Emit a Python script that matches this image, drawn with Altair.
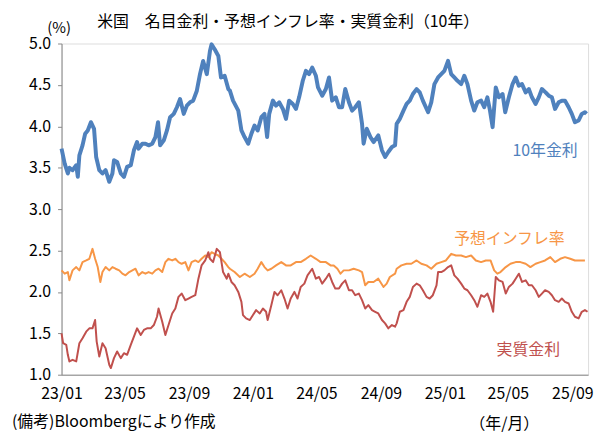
import altair as alt
import pandas as pd

TITLE = "米国　名目金利・予想インフレ率・実質金利（10年）"
FOOTER = "(備考)Bloombergにより作成"
XTITLE = "（年/月）"
YTITLE = "(%)"
FONT = "Noto Sans CJK JP"

START = "2023-01-01"

# day offsets from 2023-01-01 and values
blue_days = [0,6,12,15,21,28,31,34,40,45,50,56,62,66,72,78,84,91,97,100,
             106,113,119,125,132,138,144,147,154,160,166,173,179,184,188,195,201,207,214,220,
             226,233,239,245,251,258,264,270,277,283,286,292,299,304,311,318,
             321,327,337,343,349,356,362,368,374,381,387,392,396,403,409,415,422,428,434,441,
             447,453,460,466,472,478,485,489,497,504,510,516,523,529,535,541,548,554,560,567,
             573,576,582,589,595,604,611,617,623,630,636,
             639,645,652,658,664,670,677,683,689,699,705,711,718,724,730,737,743,749,755,762,
             768,774,781,787,793,800,806,812,817,822,828,834,841,846,853,860,866,872,878,885,
             891,897,904,910,916,923,929,935,941,948,954,960,967,973,979,986,992,998,1001]
blue_vals = [3.73,3.55,3.43,3.50,3.47,3.53,3.39,3.65,3.77,3.91,3.95,4.05,3.97,3.63,3.47,3.43,3.47,3.33,3.43,3.59,
             3.57,3.43,3.39,3.51,3.53,3.71,3.81,3.73,3.79,3.79,3.77,3.79,3.87,4.05,3.77,3.83,3.95,4.11,4.15,4.23,
             4.33,4.15,4.25,4.29,4.31,4.43,4.63,4.79,4.63,4.91,4.99,4.93,4.85,4.59,4.61,4.45,
             4.43,4.31,4.19,3.95,3.87,3.79,3.91,4.01,3.95,4.11,4.15,3.87,4.15,4.31,4.25,4.29,4.21,4.09,4.31,4.27,
             4.21,4.35,4.55,4.67,4.63,4.71,4.61,4.47,4.37,4.45,4.59,4.31,4.35,4.23,4.23,4.45,4.29,4.19,4.23,4.29,
             4.03,3.79,3.97,3.87,3.81,3.89,3.71,3.63,3.69,3.75,3.77,
             4.03,4.09,4.19,4.27,4.31,4.39,4.45,4.41,4.31,4.17,4.29,4.51,4.59,4.63,4.67,4.79,4.63,4.59,4.55,4.51,
             4.61,4.51,4.31,4.19,4.29,4.31,4.23,4.35,4.19,3.99,4.47,4.35,4.39,4.17,4.35,4.51,4.59,4.49,4.51,4.41,
             4.45,4.35,4.27,4.35,4.45,4.41,4.37,4.35,4.21,4.29,4.31,4.31,4.23,4.15,4.05,4.07,4.15,4.17,4.15]

orange_days = [0,6,12,15,21,28,34,40,47,53,59,64,69,74,78,84,91,97,103,110,
               116,122,129,135,141,147,154,160,166,173,179,185,192,198,204,211,217,223,229,236,
               242,248,255,261,267,274,280,286,292,299,305,311,318,
               321,330,340,349,359,368,374,381,387,393,400,409,419,428,437,447,456,466,475,485,
               494,504,513,519,526,532,538,548,557,567,573,579,585,595,604,614,620,626,636,
               639,648,658,667,677,686,696,705,715,724,733,743,752,762,771,781,790,800,809,818,
               825,831,837,847,856,866,875,885,894,904,913,922,932,941,951,960,970,979,989,998]
orange_vals = [2.26,2.22,2.24,2.14,2.26,2.30,2.26,2.36,2.38,2.40,2.52,2.40,2.30,2.12,2.24,2.30,2.26,2.30,2.28,2.26,
               2.22,2.20,2.24,2.26,2.28,2.20,2.24,2.22,2.24,2.22,2.26,2.28,2.24,2.36,2.40,2.38,2.40,2.36,2.34,2.36,
               2.26,2.36,2.38,2.36,2.40,2.44,2.42,2.48,2.46,2.44,2.40,2.36,2.30,
               2.28,2.24,2.18,2.22,2.18,2.22,2.28,2.36,2.30,2.26,2.28,2.32,2.36,2.32,2.32,2.36,2.36,2.40,2.44,2.40,
               2.36,2.36,2.32,2.32,2.28,2.22,2.26,2.26,2.28,2.26,2.24,2.08,2.12,2.12,2.16,2.06,2.10,2.18,2.22,
               2.28,2.32,2.34,2.34,2.38,2.34,2.32,2.28,2.34,2.36,2.38,2.46,2.44,2.44,2.42,2.44,2.38,2.36,2.38,2.38,
               2.26,2.22,2.24,2.30,2.34,2.36,2.36,2.34,2.30,2.34,2.36,2.38,2.42,2.36,2.40,2.42,2.40,2.38,2.38,2.38]

red_days = [0,3,9,12,15,21,28,34,40,47,53,59,64,67,72,78,84,91,94,100,
            106,113,119,125,132,138,144,151,157,163,170,176,182,185,192,198,204,211,217,223,
            229,236,242,248,255,261,267,274,280,283,289,296,302,308,315,
            318,324,330,337,343,346,352,359,365,371,378,384,390,393,400,406,412,419,425,431,
            437,444,450,456,463,469,478,485,491,497,504,510,516,522,529,535,541,548,554,560,
            567,573,579,585,592,598,604,611,617,623,630,636,
            639,645,652,658,664,670,677,683,689,696,702,708,715,718,724,730,737,743,749,755,
            762,768,774,781,787,793,800,806,812,818,823,828,834,841,847,853,860,866,872,878,
            885,891,897,904,910,916,922,929,935,941,948,954,960,967,973,979,986,992,998,1003]
red_vals = [1.50,1.38,1.36,1.24,1.16,1.18,1.16,1.38,1.44,1.52,1.56,1.56,1.66,1.40,1.22,1.38,1.32,1.12,1.08,1.20,
            1.28,1.20,1.26,1.24,1.36,1.46,1.56,1.48,1.54,1.56,1.56,1.60,1.70,1.80,1.64,1.48,1.60,1.74,1.80,1.94,
            1.98,1.90,1.92,1.94,1.96,2.16,2.32,2.38,2.48,2.40,2.36,2.52,2.48,2.24,2.16,
            2.22,2.12,2.08,2.00,1.88,1.72,1.68,1.66,1.72,1.78,1.74,1.80,1.76,1.66,1.84,2.00,1.96,2.02,1.92,1.80,
            1.92,2.00,1.92,2.06,2.10,2.20,2.28,2.16,2.18,2.10,2.16,2.22,2.12,2.04,2.04,2.10,2.14,2.02,2.02,1.96,
            1.98,1.90,1.80,1.84,1.78,1.76,1.74,1.66,1.62,1.56,1.60,1.58,
            1.62,1.76,1.78,1.88,1.94,2.06,2.10,2.08,2.02,1.94,1.92,1.96,2.08,2.24,2.24,2.26,2.30,2.32,2.20,2.16,
            2.10,2.04,2.02,1.96,1.90,1.82,1.96,1.94,1.98,1.88,1.76,2.18,2.14,2.12,1.98,2.06,2.10,2.16,2.22,2.12,
            2.14,2.08,2.08,2.02,1.94,1.98,2.02,2.00,1.96,1.90,1.88,1.92,1.88,1.86,1.76,1.70,1.68,1.76,1.78,1.76]

# series labels: text, day offset, value, colour
label_text = ["10年金利", "予想インフレ率", "実質金利"]
label_days = [922, 854, 890]
label_vals = [3.70, 2.64, 1.30]

BLUE = "#4F81BD"
ORANGE = "#F79646"
RED = "#C0504D"
label_colors = [BLUE, ORANGE, RED]

y_ticks = [1.0, 1.5, 2.0, 2.5, 3.0, 3.5, 4.0, 4.5, 5.0]
x_tick_months = [(2023, 1), (2023, 5), (2023, 9), (2024, 1), (2024, 5), (2024, 9),
                 (2025, 1), (2025, 5), (2025, 9)]

base = pd.Timestamp(START)


def frame(days, vals):
    return pd.DataFrame({"date": [base + pd.Timedelta(days=d) for d in days], "v": vals})


x_scale = alt.Scale(domain=[alt.DateTime(year=2023, month=1, date=1),
                            alt.DateTime(year=2025, month=10, date=1)])
y_scale = alt.Scale(domain=[1.0, 5.0], nice=False, zero=False)

x_axis = alt.Axis(values=[alt.DateTime(year=y, month=m, date=1) for y, m in x_tick_months],
                  format="%y/%m", formatType="time", title=XTITLE, titleX=446, titleY=49,
                  titleFont=FONT, titleFontSize=16, titleFontWeight="normal", titleColor="#000",
                  titleBaseline="middle", titleAlign="center",
                  labelFont=FONT, labelFontSize=16, labelColor="#000", labelPadding=11,
                  ticks=False, tickSize=0, grid=False, domainColor="#888", labelFlush=False,
                  labelOverlap=False)
y_axis = alt.Axis(values=y_ticks, format=".1f", title=YTITLE, titleAngle=0, titleX=-3,
                  titleY=-16, titleAlign="center", titleBaseline="middle", titleFont=FONT,
                  titleFontSize=15, titleFontWeight="normal", titleColor="#000",
                  labelFont=FONT, labelFontSize=16, labelColor="#000", labelPadding=7,
                  tickSize=4, tickColor="#888", grid=False, domainColor="#888")


def line(df, color, width):
    return alt.Chart(df).mark_line(color=color, strokeWidth=width, strokeJoin="round").encode(
        x=alt.X("date:T", scale=x_scale, axis=x_axis),
        y=alt.Y("v:Q", scale=y_scale, axis=y_axis),
    )


lab_df = pd.DataFrame({"t": label_text,
                       "date": [base + pd.Timedelta(days=d) for d in label_days],
                       "v": label_vals, "c": label_colors})
labels = alt.Chart(lab_df).mark_text(font=FONT, fontSize=16, align="center", baseline="middle").encode(
    x=alt.X("date:T", scale=x_scale),
    y=alt.Y("v:Q", scale=y_scale),
    text="t:N",
    color=alt.Color("c:N", scale=None),
)

foot = alt.Chart(pd.DataFrame({"t": [FOOTER]})).mark_text(
    font=FONT, fontSize=16, align="left", baseline="middle", color="#000"
).encode(x=alt.value(-50), y=alt.value(382), text="t:N")

title = alt.Chart(pd.DataFrame({"ttl": [TITLE]})).mark_text(
    font=FONT, fontSize=16, align="left", baseline="middle", color="#000"
).encode(x=alt.value(36), y=alt.value(-22), text="ttl:N")

chart = alt.layer(
    line(frame(orange_days, orange_vals), ORANGE, 2),
    line(frame(red_days, red_vals), RED, 2),
    line(frame(blue_days, blue_vals), BLUE, 4),
    labels,
    foot,
    title,
).properties(
    width=531, height=334,
    autosize=alt.AutoSizeParams(type="none"),
    padding={"left": 54, "top": 34, "right": 8, "bottom": 60},
).configure_view(stroke="#000", strokeWidth=1).configure(background="white")

chart.save("out.html", embed_options={"renderer": "svg", "actions": False})
